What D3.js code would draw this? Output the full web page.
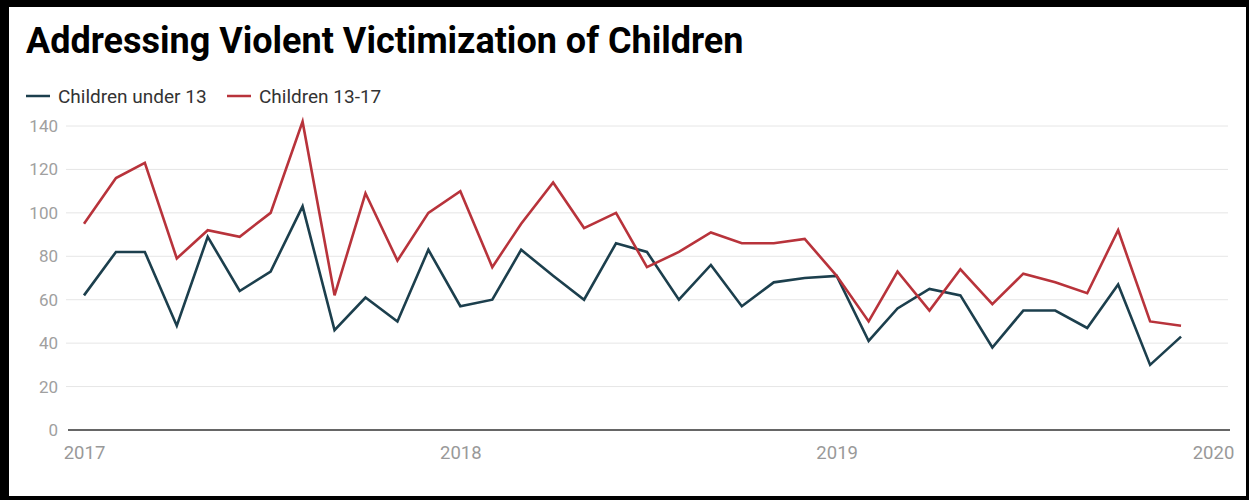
<!DOCTYPE html>
<html><head><meta charset="utf-8">
<script src="https://cdn.jsdelivr.net/npm/d3@7"></script>
<style>
html,body{margin:0;padding:0;background:#000;}
svg{display:block;font-family:Roboto,"Noto Sans",sans-serif;}
</style></head>
<body>
<svg id="chart" width="1249" height="500"></svg>
<script>
const months = ["2017-01","2017-02","2017-03","2017-04","2017-05","2017-06","2017-07","2017-08","2017-09","2017-10","2017-11","2017-12",
"2018-01","2018-02","2018-03","2018-04","2018-05","2018-06","2018-07","2018-08","2018-09","2018-10","2018-11","2018-12",
"2019-01","2019-02","2019-03","2019-04","2019-05","2019-06","2019-07","2019-08","2019-09","2019-10","2019-11","2019-12"];
const under13 = [62,82,82,48,89,64,73,103,46,61,50,83, 57,60,83,71,60,86,82,60,76,57,68,70, 71,41,56,65,62,38,55,55,47,67,30,43];
const age13to17 = [95,116,123,79,92,89,100,142,62,109,78,100, 110,75,95,114,93,100,75,82,91,86,86,88, 71,50,73,55,74,58,72,68,63,92,50,48];
const seriesNames = ["Children under 13","Children 13-17"];
const seriesColors = ["#1c3f4d","#b8333b"];
const yTicks = [0,20,40,60,80,100,120,140];
const xTickLabels = ["2017","2018","2019","2020"];
const title = "Addressing Violent Victimization of Children";

const parse = d3.timeParse("%Y-%m");
const dates = months.map(parse);
const svg = d3.select("#chart");

// white card inside black frame
svg.append("rect").attr("x",9).attr("y",7).attr("width",1237).attr("height",489).attr("fill","#fff");

const x = d3.scaleTime().domain([new Date(2017,0,1), new Date(2020,0,1)]).range([84,1213]);
const y = d3.scaleLinear().domain([0,140]).range([430,126]);

// gridlines
svg.append("g").selectAll("line").data(yTicks.filter(d=>d>0)).join("line")
  .attr("x1",66).attr("x2",1228).attr("y1",d=>y(d)).attr("y2",d=>y(d))
  .attr("stroke","#e6e6e6").attr("stroke-width",1);

// y axis labels
const yAxis = d3.axisLeft(y).tickValues(yTicks).tickSize(0).tickPadding(0);
const gy = svg.append("g").attr("transform","translate(58,0)").call(yAxis);
gy.select(".domain").remove();
gy.selectAll("text").attr("fill","#a0a0a0").style("font-size","17px").style("font-family","Roboto");

// x axis
const xAxis = d3.axisBottom(x).tickValues(xTickLabels.map(s=>new Date(+s,0,1))).tickFormat((d,i)=>xTickLabels[i]).tickSize(0).tickPadding(0);
const gx = svg.append("g").attr("transform","translate(0,430)").call(xAxis);
gx.select(".domain").remove();
gx.selectAll("text").attr("fill","#999").attr("dy","0").attr("y",29).style("font-size","18.5px").style("font-family","Roboto");
svg.append("line").attr("x1",68).attr("x2",1230).attr("y1",y(0)).attr("y2",y(0)).attr("stroke","#333").attr("stroke-width",1.5);

// lines
const line = d3.line().x((d,i)=>x(dates[i])).y(d=>y(d));
[under13, age13to17].forEach((s,k)=>{
  svg.append("path").datum(s).attr("d",line).attr("fill","none")
    .attr("stroke",seriesColors[k]).attr("stroke-width",2.6).attr("stroke-linejoin","miter");
});

// title
svg.append("text").attr("x",26).attr("y",53).text(title)
  .style("font-family","Roboto").style("font-weight","700").style("font-size","36px").attr("fill","#000");

// legend
const legendX = [26,227];
seriesNames.forEach((n,k)=>{
  svg.append("line").attr("x1",legendX[k]).attr("x2",legendX[k]+24).attr("y1",96).attr("y2",96)
    .attr("stroke",seriesColors[k]).attr("stroke-width",2.5);
  svg.append("text").attr("x",legendX[k]+32).attr("y",102.5).text(n)
    .style("font-family","Roboto").style("font-size","19px").attr("fill","#333");
});
</script>
</body></html>
